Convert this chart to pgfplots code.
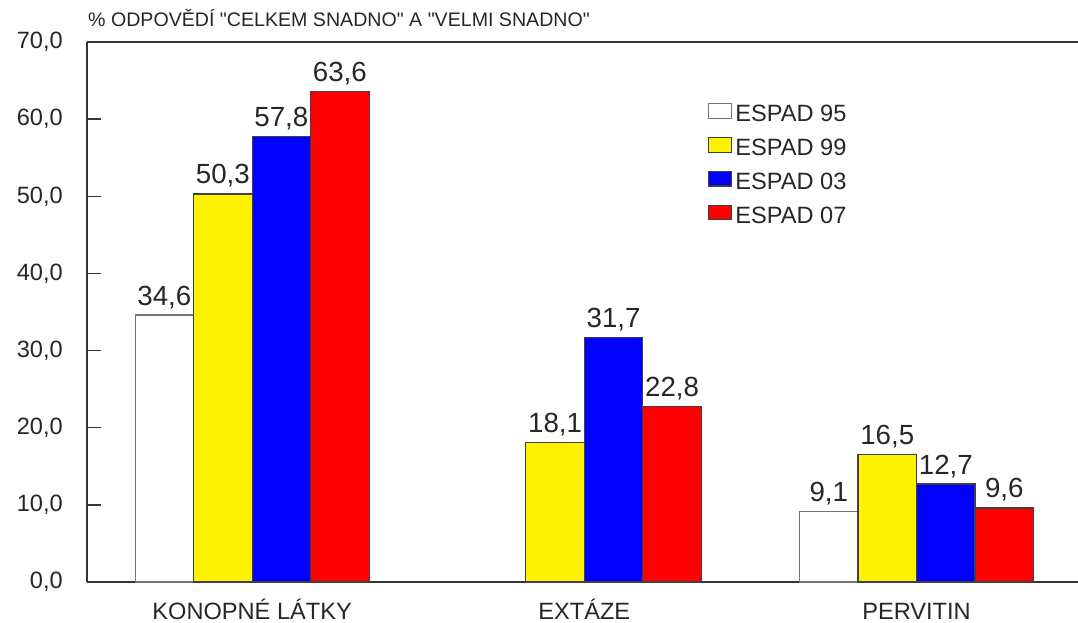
\documentclass[border=0pt]{standalone}
\usepackage{fontspec}
\setmainfont{Liberation Sans}
\newfontfamily\plainfont{Liberation Sans}
\usepackage{pgfplots}
\pgfplotsset{compat=1.18}
\definecolor{axcol}{gray}{0.2}
\begin{document}
\begin{tikzpicture}
\path[use as bounding box] (-87pt,-40pt) rectangle (991pt,582pt);
\begin{axis}[
  at={(0pt,0pt)}, anchor=south west,
  width=991pt, height=540pt, scale only axis,
  xmin=-0.497, xmax=2.486, ymin=0, ymax=70,
  axis lines=left, axis line style={-, line width=1.3pt, axcol},
  ybar=0pt, bar width=58.5pt,
  xtick={0,1,2}, xticklabels={KONOPNÉ LÁTKY, EXTÁZE, PERVITIN},
  ytick={0,10,...,70},
  /pgf/number format/.cd, fixed, fixed zerofill, precision=1, use comma, assume math mode=true,
  /pgfplots/.cd,
  tick align=inside, major tick length=14pt,
  ytick style={line width=1.3pt, axcol},
  xtick style={draw=none},
  yticklabel style={font=\fontsize{23.6}{28}\selectfont, inner sep=0pt, xshift=-24pt, text=black!85},
  xticklabel style={font=\fontsize{23.6}{28}\selectfont, inner sep=0pt, anchor=base, yshift=-37pt, text=black!85},
  nodes near coords,
  every node near coord/.append style={font=\fontsize{27.7}{30}\selectfont, anchor=base, inner sep=0pt, yshift=10pt, text=black!85},
  clip=false,
  legend image code/.code={\draw[#1, line width=1.2pt] (0pt,-4.5pt) rectangle (23pt,10pt);},
  legend cell align=left,
  legend style={draw=none, fill=none, at={(0.6266,0.887)}, anchor=north west,
    inner sep=0pt, column sep=3pt, row sep=15.2pt,
    font=\fontsize{23.6}{28}\selectfont, text=black!85,
    nodes={inner sep=0pt, text height=16pt, text depth=0pt}},
]
\addplot[fill=white, draw=black!55, line width=1.2pt] coordinates {(0,34.6) (2,9.1)};
\addplot[fill=yellow, draw=black!75, line width=1.2pt] coordinates {(0,50.3) (1,18.1) (2,16.5)};
\addplot[fill=blue, draw=black!75, line width=1.2pt] coordinates {(0,57.8) (1,31.7) (2,12.7)};
\addplot[fill=red, draw=black!75, line width=1.2pt] coordinates {(0,63.6) (1,22.8) (2,9.6)};
\legend{ESPAD 95, ESPAD 99, ESPAD 03, ESPAD 07}
\end{axis}
\draw[line width=1.3pt, axcol] (0pt,540pt) -- (991pt,540pt);
\node[anchor=base west, inner sep=0pt, font=\plainfont\fontsize{19.6}{22}\selectfont, text=black!85] at (1pt,555pt) {\% ODPOVĚDÍ "CELKEM SNADNO" A "VELMI SNADNO"};
\end{tikzpicture}
\end{document}
